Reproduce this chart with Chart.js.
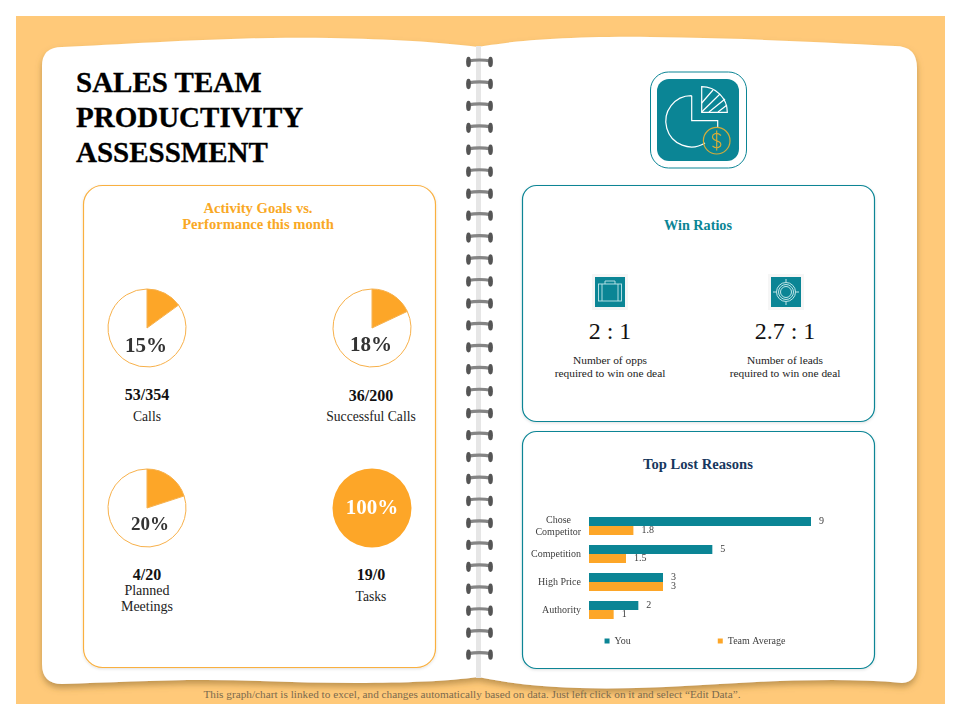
<!DOCTYPE html>
<html>
<head>
<meta charset="utf-8">
<style>
  html, body { margin: 0; padding: 0; background: #fff; }
  #page { position: relative; width: 960px; height: 720px; overflow: hidden; font-family: "Liberation Serif", serif; }
  #page svg { position: absolute; left: 0; top: 0; }
  #page canvas { position: absolute; }
  .txt { position: absolute; transform: translate(-50%, -50%); white-space: nowrap; text-align: center; color: #1a1a1a; }
  .title { position: absolute; left: 76px; font-weight: bold; font-size: 29px; line-height: 35px; color: #000; white-space: nowrap; -webkit-text-stroke: 0.3px #000; }
</style>
</head>
<body>
<div id="page">
  <svg id="back" width="960" height="720" viewBox="0 0 960 720">
    <defs>
      <filter id="pageShadow" x="-5%" y="-5%" width="110%" height="110%">
        <feDropShadow dx="0" dy="4" stdDeviation="3" flood-color="#8a6a30" flood-opacity="0.55"/>
      </filter>
      <filter id="cardShadow" x="-5%" y="-5%" width="110%" height="110%">
        <feDropShadow dx="0" dy="1" stdDeviation="1.5" flood-color="#000" flood-opacity="0.12"/>
      </filter>
    </defs>
    <rect x="16" y="16" width="929" height="688" fill="#FFC979"/>
    <path filter="url(#pageShadow)" fill="#fff" d="M42 66 Q42 47 62 47 C130 44 240 36 330 38 C390 39 440 42 478 47 C510 41 570 36 650 37 C740 38 820 42 895 46 Q917 46 917 68 L917 664 Q917 682 902 683 C850 678 790 680 720 684 C650 688 560 694 478 677 C430 684 340 684 260 681 C190 678 120 682 62 684 Q42 684 42 664 Z"/>
    <rect x="476" y="46" width="5" height="632" fill="#e6e6e6"/>
    <g id="rings"></g>
    <rect x="83.5" y="185.5" width="352" height="482" rx="19" fill="#fff" stroke="#F9B040" stroke-width="1.2" filter="url(#cardShadow)"/>
    <rect x="522.5" y="185.5" width="352" height="236" rx="14" fill="#fff" stroke="#0B8595" stroke-width="1.2" filter="url(#cardShadow)"/>
    <rect x="522.5" y="431.5" width="352" height="237" rx="14" fill="#fff" stroke="#0B8595" stroke-width="1.2" filter="url(#cardShadow)"/>

    <rect x="650.5" y="72" width="96" height="96" rx="18" fill="#fff" stroke="#0B8595" stroke-width="1"/>
    <rect x="657" y="79" width="82" height="82" rx="12" fill="#0B8595"/>
    <g fill="none" stroke="#fff" stroke-width="1.2">
      <path d="M691.7 95.7 A25.6 25.6 0 1 0 705 143 M691.7 95.7 L691.7 120.7 L717.7 120.7 L717.7 127"/>
      <path d="M701.7 112.3 L701.7 86.7 A25.6 25.6 0 0 1 727.3 112.3 Z"/>
      <path d="M701.7 103 L713 90 M701.7 112 L720 94 M709 112 L725 99 M718 112 L727 105"/>
    </g>
    <g fill="none" stroke="#D4AC3A" stroke-width="1.2">
      <circle cx="716.7" cy="140.7" r="13.3"/>
      <path d="M721 135.5 Q716.7 131.5 713 135 Q711 139 716.7 140.7 Q722 142.5 720.5 146 Q716.7 149.5 712.5 146 M716.7 130.5 L716.7 150.5"/>
    </g>

    <rect x="592" y="274" width="36" height="36" fill="#f6f6f6"/>
    <rect x="595" y="277" width="30" height="30" fill="#0B8595"/>
    <g fill="none" stroke="#bfe6ea" stroke-width="0.9">
      <rect x="598.5" y="284" width="23" height="17"/>
      <path d="M605 284 L605 281 L615 281 L615 284 M602 284 L602 301 M618 284 L618 301"/>
    </g>
    <rect x="768" y="274" width="36" height="36" fill="#f6f6f6"/>
    <rect x="771" y="277" width="30" height="30" fill="#0B8595"/>
    <g fill="none" stroke="#d5f0f2" stroke-width="0.9">
      <circle cx="786" cy="292" r="5.5"/>
      <circle cx="786" cy="292" r="7.5"/>
      <circle cx="786" cy="292" r="9.5"/>
      <path d="M786 279 L786 282 M786 302 L786 305 M773 292 L776 292 M796 292 L799 292"/>
    </g>
  </svg>

  <div class="title" style="top:65px">SALES TEAM<br>PRODUCTIVITY<br>ASSESSMENT</div>
  <div id="labels"></div>

  <canvas id="goal0" width="90" height="90" style="left:102px;top:283px"></canvas>
  <canvas id="goal1" width="90" height="90" style="left:327px;top:283px"></canvas>
  <canvas id="goal2" width="90" height="90" style="left:102px;top:463px"></canvas>
  <canvas id="goal3" width="90" height="90" style="left:327px;top:463px"></canvas>
  <canvas id="reasons" width="380" height="158" style="left:505px;top:498px"></canvas>
  <div id="over"></div>
</div>

<script src="https://cdn.jsdelivr.net/npm/chart.js@4/dist/chart.umd.min.js"></script>
<script>
const goalNames = ['Calls', 'Successful Calls', 'Planned', 'Tasks']
const goalCounts = ['53/354', '36/200', '4/20', '19/0']
const goalPercent = [15, 18, 20, 100]

const reasonLabels = [['Chose    ', 'Competitor'], 'Competition', 'High Price', 'Authority']
const youValues = [9, 5, 3, 2]
const teamValues = [1.8, 1.5, 3, 1]

const ORANGE = '#FDA628'
const TEAL = '#0B8595'

// spiral binding down the middle
const rings = document.getElementById('rings')
let ringsHtml = ''
for (let i = 0; i < 28; i++) {
    const y = 62 + i * 21.95
    ringsHtml += `<path d="M468 ${y - 1} Q479.5 ${y - 3} 491 ${y - 1}" fill="none" stroke="#858585" stroke-width="3.2"/>` +
        `<ellipse cx="468.5" cy="${y}" rx="2.4" ry="5.2" fill="#555"/><ellipse cx="490.5" cy="${y}" rx="2.4" ry="5.2" fill="#555"/>`
}
rings.innerHTML = ringsHtml

function addText(parent, text, x, y, size, color, bold) {
    const el = document.createElement('div')
    el.className = 'txt'
    el.textContent = text
    el.style.left = x + 'px'
    el.style.top = y + 'px'
    el.style.fontSize = size + 'px'
    if (color) el.style.color = color
    if (bold) el.style.fontWeight = 'bold'
    document.getElementById(parent).appendChild(el)
}

addText('labels', 'Activity Goals vs.', 258, 208, 14.6, '#F9A825', true)
addText('labels', 'Performance this month', 258, 224, 14.6, '#F9A825', true)
addText('labels', 'Win Ratios', 698, 225, 14.2, TEAL, true)
addText('labels', 'Top Lost Reasons', 698, 464, 14.6, '#17375E', true)

addText('labels', '2 : 1', 610, 331, 24, '#111')
addText('labels', '2.7 : 1', 785, 331, 24, '#111')
addText('labels', 'Number of opps', 610, 360, 11.4, '#222')
addText('labels', 'required to win one deal', 610, 373, 11.4, '#222')
addText('labels', 'Number of leads', 785, 360, 11.4, '#222')
addText('labels', 'required to win one deal', 785, 373, 11.4, '#222')

addText('labels', goalCounts[0], 147, 395, 16, '#111', true)
addText('labels', goalNames[0], 147, 417, 13.6, '#222')
addText('labels', goalCounts[1], 371, 396, 16, '#111', true)
addText('labels', goalNames[1], 371, 417, 13.6, '#222')
addText('labels', goalCounts[2], 147, 575, 16, '#111', true)
addText('labels', goalNames[2], 147, 591, 14, '#222')
addText('labels', 'Meetings', 147, 607, 14, '#222')
addText('labels', goalCounts[3], 371, 575, 16, '#111', true)
addText('labels', goalNames[3], 371, 597, 13.6, '#222')

addText('labels', 'This graph/chart is linked to excel, and changes automatically based on data. Just left click on it and select “Edit Data”.', 472, 694, 11.25, '#7b6a4d')

addText('over', goalPercent[0] + '%', 146, 345, 21, '#333', true)
addText('over', goalPercent[1] + '%', 371, 344, 21, '#333', true)
addText('over', goalPercent[2] + '%', 150, 524, 19, '#333', true)
addText('over', goalPercent[3] + '%', 372, 507, 21, '#fff', true)

function drawGoalPie(id, percent) {
    return new Chart(document.getElementById(id), {
        type: 'pie',
        data: {
            labels: ['Done', 'Remaining'],
            datasets: [{
                data: [percent, 100 - percent],
                backgroundColor: [ORANGE, '#fff'],
                borderColor: '#F7B04A',
                borderWidth: percent === 100 ? 0 : 1
            }]
        },
        options: {
            responsive: false,
            animation: false,
            layout: { padding: 5.5 },
            plugins: { legend: { display: false }, tooltip: { enabled: false } }
        }
    })
}

goalPercent.forEach((p, i) => drawGoalPie('goal' + i, p))

const valueLabels = {
    id: 'valueLabels',
    afterDatasetsDraw(chart) {
        const ctx = chart.ctx
        ctx.save()
        ctx.font = '10px "Liberation Serif"'
        ctx.fillStyle = '#404040'
        ctx.textAlign = 'left'
        ctx.textBaseline = 'middle'
        chart.data.datasets.forEach((ds, d) => {
            chart.getDatasetMeta(d).data.forEach((bar, i) => {
                ctx.fillText(ds.data[i], bar.x + 8, bar.y)
            })
        })
        ctx.restore()
    }
}

new Chart(document.getElementById('reasons'), {
    type: 'bar',
    data: {
        labels: reasonLabels,
        datasets: [
            { label: 'You', data: youValues, backgroundColor: TEAL },
            { label: 'Team Average', data: teamValues, backgroundColor: ORANGE }
        ]
    },
    options: {
        indexAxis: 'y',
        responsive: false,
        animation: false,
        layout: { padding: { top: 12 } },
        categoryPercentage: 0.645,
        barPercentage: 1,
        scales: {
            x: { display: false, min: 0, max: 12 },
            y: {
                afterFit: s => { s.width = 84 },
                grid: { display: false, drawTicks: false },
                border: { display: false },
                ticks: { padding: 8, autoSkip: false, color: '#404040', font: { family: '"Liberation Serif"', size: 10 } }
            }
        },
        plugins: {
            tooltip: { enabled: false },
            legend: {
                position: 'bottom',
                labels: {
                    boxWidth: 5,
                    boxHeight: 5,
                    padding: 12,
                    color: '#404040',
                    font: { family: '"Liberation Serif"', size: 10 },
                    generateLabels: chart => Chart.defaults.plugins.legend.labels.generateLabels(chart).map((item, i) => {
                        // the two entries sit far apart in the original
                        if (i === 0) item.text = item.text.padEnd(33, ' ')
                        return item
                    })
                }
            }
        }
    },
    plugins: [valueLabels]
})
</script>
</body>
</html>
